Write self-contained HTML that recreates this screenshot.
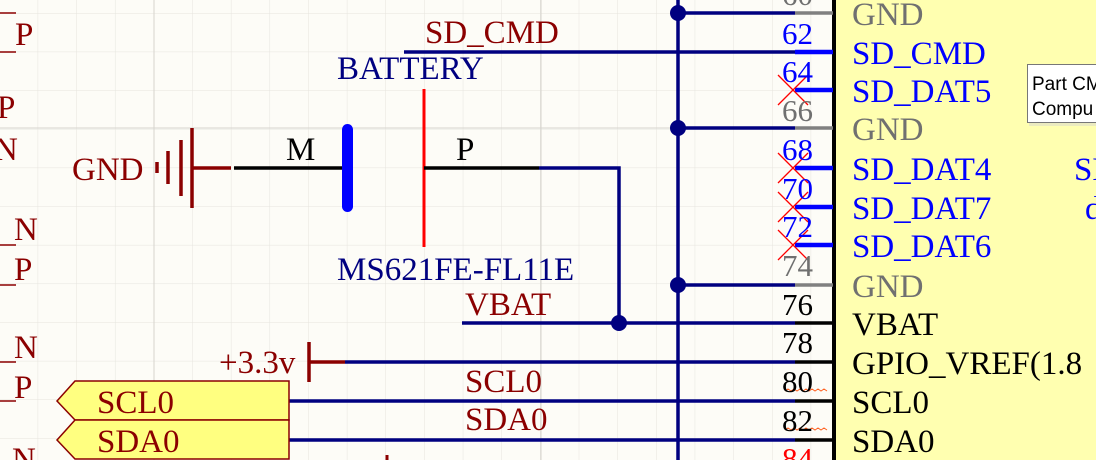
<!DOCTYPE html>
<html><head><meta charset="utf-8"><style>
html,body{margin:0;padding:0;background:#fdfcf7;}
svg{display:block;}
</style></head><body>
<svg width="1096" height="460" viewBox="0 0 1096 460" xmlns="http://www.w3.org/2000/svg" font-family="'Liberation Serif', 'DejaVu Serif', serif">
<defs>
<pattern id="g" x="-1" y="13" width="38.65" height="38.65" patternUnits="userSpaceOnUse">
<path d="M0 0H38.65M0 0V38.65" stroke="#e6e4de" stroke-width="1" fill="none"/>
</pattern>
</defs>
<rect width="1096" height="460" fill="#fdfcf7"/>
<rect width="1096" height="460" fill="url(#g)"/>
<line x1="154" y1="0" x2="154" y2="460" stroke="#d6d4ce"/>
<line x1="541" y1="0" x2="541" y2="460" stroke="#d6d4ce"/>
<line x1="0" y1="128" x2="1096" y2="128" stroke="#d6d4ce"/>

<rect x="835" y="0" width="261" height="460" fill="#ffffb0"/>
<line x1="834" y1="0" x2="834" y2="460" stroke="#000" stroke-width="4"/>

<g fill="#8b0000" font-size="33" font-family="'Liberation Serif', serif">
<text x="15" y="45">P</text><text x="-3" y="118">P</text><text x="-6" y="160">N</text>
<text x="14" y="240">N</text><text x="14" y="280">P</text>
<text x="14" y="358">N</text><text x="14" y="398">P</text><text x="12" y="470">N</text>
</g>
<g stroke="#8b0000" stroke-width="1.5">
<line x1="0" y1="13" x2="16" y2="13"/><line x1="0" y1="52" x2="16" y2="52"/>
<line x1="0" y1="245" x2="16" y2="245"/><line x1="0" y1="285" x2="16" y2="285"/>
<line x1="0" y1="362" x2="16" y2="362"/><line x1="0" y1="401" x2="16" y2="401"/>
</g>

<g stroke="#000080" stroke-width="3.5" fill="none">
<line x1="678" y1="0" x2="678" y2="460"/>
<line x1="678" y1="13" x2="795" y2="13"/>
<line x1="404" y1="52" x2="795" y2="52"/>
<line x1="678" y1="128" x2="795" y2="128"/>
<line x1="678" y1="285" x2="795" y2="285"/>
<line x1="462" y1="323" x2="795" y2="323"/>
<polyline points="539,168 619,168 619,323"/>
<line x1="345" y1="362" x2="795" y2="362"/>
<line x1="289" y1="401" x2="795" y2="401"/>
<line x1="289" y1="440" x2="795" y2="440"/>
</g>
<g fill="#000080">
<circle cx="678" cy="13" r="8"/><circle cx="678" cy="128" r="8"/><circle cx="678" cy="285" r="8"/><circle cx="619" cy="323" r="8"/>
</g>

<g stroke-width="3.5">
<line x1="795" y1="13" x2="833" y2="13" stroke="#808080"/>
<line x1="795" y1="52" x2="833" y2="52" stroke="#0000ff" stroke-width="4.5"/>
<line x1="795" y1="90" x2="833" y2="90" stroke="#0000ff" stroke-width="4.5"/>
<line x1="795" y1="128" x2="833" y2="128" stroke="#808080"/>
<line x1="795" y1="168" x2="833" y2="168" stroke="#0000ff" stroke-width="4.5"/>
<line x1="795" y1="207" x2="833" y2="207" stroke="#0000ff" stroke-width="4.5"/>
<line x1="795" y1="245" x2="833" y2="245" stroke="#0000ff" stroke-width="4.5"/>
<line x1="795" y1="285" x2="833" y2="285" stroke="#808080"/>
<line x1="795" y1="323" x2="833" y2="323" stroke="#000"/>
<line x1="795" y1="362" x2="833" y2="362" stroke="#000"/>
<line x1="795" y1="401" x2="833" y2="401" stroke="#000"/>
<line x1="795" y1="440" x2="833" y2="440" stroke="#000"/>
</g>
<g stroke="#ff0000" stroke-width="1.3">
<path d="M778 75L808 105M808 75L778 105"/>
<path d="M778 153L808 183M808 153L778 183"/>
<path d="M778 192L808 222M808 192L778 222"/>
<path d="M778 230L808 260M808 230L778 260"/>
</g>
<g stroke="#ff6020" stroke-width="1" fill="none">
<path d="M785 391l3 -2 3 2 3 -2 3 2 3 -2 3 2 3 -2 3 2 3 -2 3 2 3-2 3 2 3 -2 3 2"/>
<path d="M785 430l3 -2 3 2 3 -2 3 2 3 -2 3 2 3 -2 3 2 3 -2 3 2 3-2 3 2 3 -2 3 2"/>
</g>

<g font-size="31" text-anchor="end" font-family="'Liberation Serif', serif">
<text x="813" y="5" fill="#707070">60</text>
<text x="813" y="44" fill="#0000ff">62</text>
<text x="813" y="82" fill="#0000ff">64</text>
<text x="813" y="121" fill="#707070">66</text>
<text x="813" y="160" fill="#0000ff">68</text>
<text x="813" y="199" fill="#0000ff">70</text>
<text x="813" y="237" fill="#0000ff">72</text>
<text x="813" y="276" fill="#707070">74</text>
<text x="813" y="315" fill="#000">76</text>
<text x="813" y="353" fill="#000">78</text>
<text x="813" y="392" fill="#000">80</text>
<text x="813" y="431" fill="#000">82</text>
<text x="813" y="469" fill="#ff0000">84</text>
</g>

<g font-size="33" font-family="'Liberation Serif', serif">
<text x="852" y="25" fill="#707070">GND</text>
<text x="852" y="64" fill="#0000ff">SD_CMD</text>
<text x="852" y="102" fill="#0000ff">SD_DAT5</text>
<text x="852" y="140" fill="#707070">GND</text>
<text x="852" y="180" fill="#0000ff">SD_DAT4</text>
<text x="852" y="219" fill="#0000ff">SD_DAT7</text>
<text x="852" y="257" fill="#0000ff">SD_DAT6</text>
<text x="852" y="297" fill="#707070">GND</text>
<text x="852" y="335" fill="#000">VBAT</text>
<text x="852" y="374" fill="#000">GPIO_VREF(1.8</text>
<text x="852" y="413" fill="#000">SCL0</text>
<text x="852" y="452" fill="#000">SDA0</text>
<text x="1074" y="180" fill="#0000ff">SD</text>
<text x="1085" y="219" fill="#0000ff">d</text>
</g>

<rect x="1029" y="66" width="80" height="60" fill="#d8d8d0" opacity="0.5"/>
<rect x="1027.5" y="64.5" width="80" height="58" fill="#fff" stroke="#777" stroke-width="1"/>
<g font-size="19" fill="#000" font-family="'Liberation Sans', 'DejaVu Sans', sans-serif">
<text x="1032" y="90">Part CM</text>
<text x="1032" y="115">Compu</text>
</g>

<g stroke="#8b0000" stroke-width="3.5">
<line x1="157" y1="162" x2="157" y2="173"/>
<line x1="168" y1="151" x2="168" y2="184"/>
<line x1="181" y1="140" x2="181" y2="196"/>
<line x1="192" y1="128" x2="192" y2="208"/>
<line x1="192" y1="168" x2="231" y2="168"/>
</g>

<line x1="234" y1="168" x2="342" y2="168" stroke="#000" stroke-width="3.5"/>
<rect x="342" y="124" width="11" height="88" rx="5.5" fill="#0000ff"/>
<line x1="424" y1="89" x2="424" y2="247" stroke="#ff0000" stroke-width="3"/>
<line x1="424" y1="168" x2="539" y2="168" stroke="#000" stroke-width="3.5"/>

<line x1="309" y1="342" x2="309" y2="382" stroke="#8b0000" stroke-width="3.5"/>
<line x1="309" y1="362" x2="345" y2="362" stroke="#8b0000" stroke-width="3.5"/>

<polygon points="57,401 75,381 289,381 289,420 75,420" fill="#ffff80" stroke="#8b0000" stroke-width="1.5"/>
<polygon points="57,440 75,420 289,420 289,459 75,459" fill="#ffff80" stroke="#8b0000" stroke-width="1.5"/>
<line x1="387" y1="455" x2="387" y2="460" stroke="#8b0000" stroke-width="3"/>

<g font-size="33" font-family="'Liberation Serif', serif">
<text x="72" y="180" fill="#8b0000">GND</text>
<text x="286" y="160" fill="#000">M</text>
<text x="456" y="160" fill="#000">P</text>
<text x="337" y="79" fill="#000080">BATTERY</text>
<text x="337" y="280" fill="#000080">MS621FE-FL11E</text>
<text x="425" y="43" fill="#8b0000">SD_CMD</text>
<text x="465" y="315" fill="#8b0000">VBAT</text>
<text x="219" y="373" fill="#8b0000">+3.3v</text>
<text x="97" y="413" fill="#8b0000">SCL0</text>
<text x="97" y="452" fill="#8b0000">SDA0</text>
<text x="465" y="392" fill="#8b0000">SCL0</text>
<text x="465" y="430" fill="#8b0000">SDA0</text>
</g>
</svg>
</body></html>
